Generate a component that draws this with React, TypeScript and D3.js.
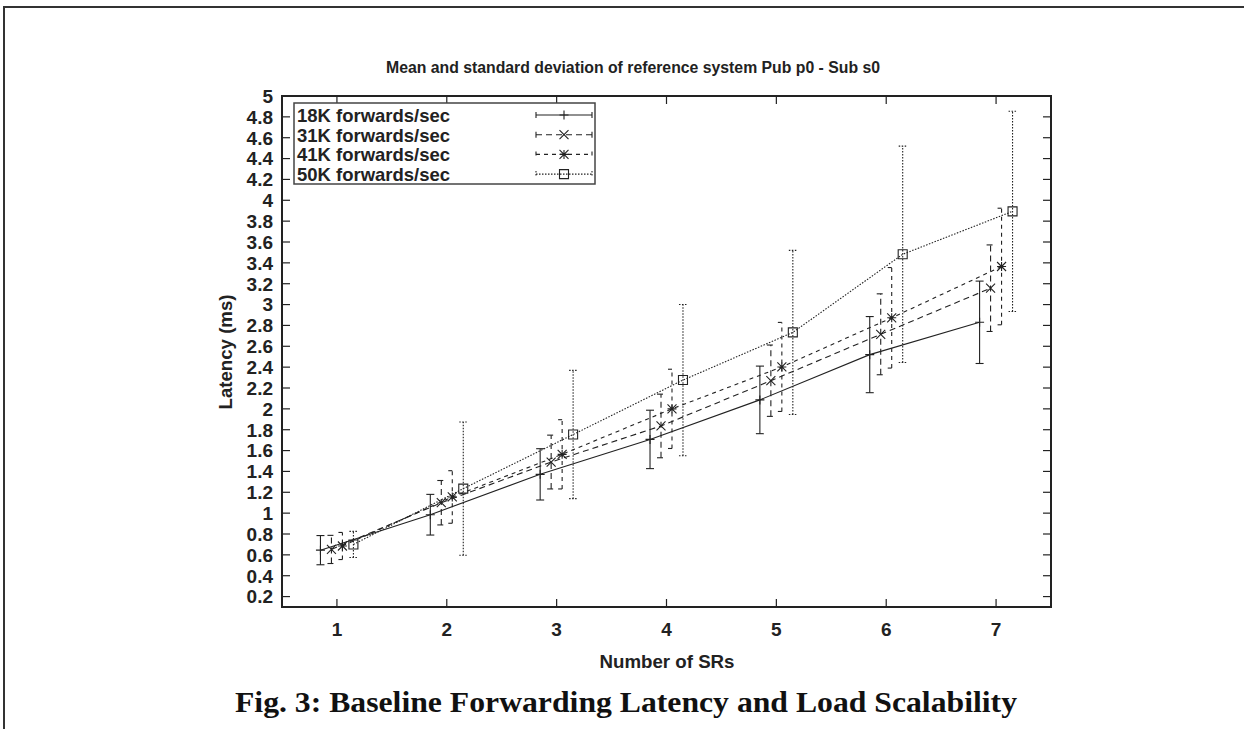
import React from 'react';
import * as d3 from 'd3';

// number of SRs on the x axis
const nodes = [1, 2, 3, 4, 5, 6, 7];

const seriesNames = ['18K forwards/sec', '31K forwards/sec', '41K forwards/sec', '50K forwards/sec'];

// mean latency (ms) per series
const mean18 = [0.645, 0.985, 1.372, 1.707, 2.086, 2.52, 2.83];
const mean31 = [0.652, 1.1, 1.49, 1.836, 2.27, 2.715, 3.157];
const mean41 = [0.685, 1.155, 1.564, 2.0, 2.402, 2.873, 3.365];
const mean50 = [0.7, 1.235, 1.754, 2.276, 2.733, 3.482, 3.894];

// standard deviation per series
const sd18 = [0.14, 0.195, 0.246, 0.28, 0.324, 0.365, 0.395];
const sd31 = [0.135, 0.213, 0.258, 0.305, 0.342, 0.388, 0.415];
const sd41 = [0.13, 0.252, 0.332, 0.38, 0.427, 0.482, 0.559];
const sd50 = [0.125, 0.639, 0.615, 0.725, 0.787, 1.037, 0.96];

const yTicks = d3.range(1, 26).map(i => +(i * 0.2).toFixed(1));

const params = {
    left: 282, right: 1051, top: 96, bottom: 607,
    tick: 8, cap: 4,
};

const font = '"Liberation Sans", Arial, sans-serif';
const ink = '#222';

const dashes = [null, '6,4', '4,4', '1.5,1.5'];
const offsets = [-0.15, -0.05, 0.05, 0.15];
const markers = ['plus', 'cross', 'star', 'box'];

function markerPath(kind: string, x: number, y: number) {
    const p = d3.path();
    const h = 4.5;
    if (kind == 'plus' || kind == 'star') {
        p.moveTo(x - h, y); p.lineTo(x + h, y);
        p.moveTo(x, y - h); p.lineTo(x, y + h);
    }
    if (kind == 'cross' || kind == 'star') {
        p.moveTo(x - h, y - h); p.lineTo(x + h, y + h);
        p.moveTo(x - h, y + h); p.lineTo(x + h, y - h);
    }
    if (kind == 'box') {
        p.rect(x - h, y - h, 2 * h, 2 * h);
    }
    return p.toString();
}

export default function App() {
    const x = d3.scaleLinear().domain([0.5, 7.5]).range([params.left, params.right]);
    const y = d3.scaleLinear().domain([0.1, 5]).range([params.bottom, params.top]);

    const means = [mean18, mean31, mean41, mean50];
    const sds = [sd18, sd31, sd41, sd50];

    // lines go through the shifted points of each series
    const lineFor = (s: number) => d3.line<number>()
        .x((d, i) => x(nodes[i] + offsets[s]))
        .y(d => y(d));

    return (
        <svg width={1244} height={729} style={{ position: 'absolute', left: 0, top: 0, background: '#fff' }}>
            {/* page frame */}
            <path d="M4,729V7H1244" fill="none" stroke="#333" strokeWidth={2} />

            <text x={633} y={73} textAnchor="middle" fontFamily={font} fontSize={16} fontWeight="bold" fill={ink}
                textLength={494} lengthAdjust="spacingAndGlyphs">
                Mean and standard deviation of reference system Pub p0 - Sub s0
            </text>

            {/* y ticks, both sides */}
            {yTicks.map(t => (
                <g key={'y' + t}>
                    <line x1={params.left} x2={params.left + params.tick} y1={y(t)} y2={y(t)} stroke={ink} strokeWidth={1.2} />
                    <line x1={params.right} x2={params.right - params.tick} y1={y(t)} y2={y(t)} stroke={ink} strokeWidth={1.2} />
                    <text x={273} y={y(t)} dy="0.36em" textAnchor="end" fontFamily={font} fontSize={19} fontWeight="bold" fill={ink}>
                        {String(t)}
                    </text>
                </g>
            ))}

            {/* x ticks, both sides */}
            {nodes.map(n => (
                <g key={'x' + n}>
                    <line x1={x(n)} x2={x(n)} y1={params.bottom} y2={params.bottom - params.tick} stroke={ink} strokeWidth={1.2} />
                    <line x1={x(n)} x2={x(n)} y1={params.top} y2={params.top + params.tick} stroke={ink} strokeWidth={1.2} />
                    <text x={x(n)} y={636} textAnchor="middle" fontFamily={font} fontSize={19} fontWeight="bold" fill={ink}>{n}</text>
                </g>
            ))}

            <text x={667} y={668} textAnchor="middle" fontFamily={font} fontSize={18} fontWeight="bold" fill={ink}
                textLength={135} lengthAdjust="spacingAndGlyphs">Number of SRs</text>
            <text transform="translate(232,352) rotate(-90)" textAnchor="middle" fontFamily={font} fontSize={18} fontWeight="bold" fill={ink}
                textLength={115} lengthAdjust="spacingAndGlyphs">Latency (ms)</text>

            {/* series */}
            {means.map((m, s) => (
                <g key={'s' + s} fill="none" stroke={ink} strokeWidth={1.1} strokeDasharray={dashes[s] || undefined}>
                    <path d={lineFor(s)(m) || ''} />
                    {m.map((v, i) => {
                        const cx = x(nodes[i] + offsets[s]);
                        const lo = y(v - sds[s][i]), hi = y(v + sds[s][i]);
                        return (
                            <g key={i}>
                                <line x1={cx} x2={cx} y1={lo} y2={hi} />
                                <line x1={cx - params.cap} x2={cx + params.cap} y1={lo} y2={lo} />
                                <line x1={cx - params.cap} x2={cx + params.cap} y1={hi} y2={hi} />
                                <path d={markerPath(markers[s], cx, y(v))} strokeDasharray="none" />
                            </g>
                        );
                    })}
                </g>
            ))}

            {/* legend */}
            <rect x={294} y={103} width={301} height={81} fill="#fff" stroke="#444" strokeWidth={1.5} />
            {seriesNames.map((name, s) => {
                const cy = 115 + s * 19.7;
                return (
                    <g key={name}>
                        <text x={297} y={cy} dy="0.36em" fontFamily={font} fontSize={19} fontWeight="bold" fill={ink}
                            textLength={153} lengthAdjust="spacingAndGlyphs">{name}</text>
                        <g fill="none" stroke={ink} strokeWidth={1.1} strokeDasharray={dashes[s] || undefined}>
                            <line x1={536} x2={592} y1={cy} y2={cy} />
                            <line x1={536} x2={536} y1={cy - 3} y2={cy + 3} />
                            <line x1={592} x2={592} y1={cy - 3} y2={cy + 3} />
                            <path d={markerPath(markers[s], 564, cy)} strokeDasharray="none" />
                        </g>
                    </g>
                );
            })}

            {/* plot border */}
            <rect x={params.left} y={params.top} width={params.right - params.left} height={params.bottom - params.top}
                fill="none" stroke={ink} strokeWidth={2} />

            <text x={626} y={712} textAnchor="middle" fontFamily='"Liberation Serif", "Times New Roman", serif' fontSize={30}
                fontWeight="bold" fill="#111" textLength={782} lengthAdjust="spacingAndGlyphs">
                Fig. 3: Baseline Forwarding Latency and Load Scalability
            </text>
        </svg>
    );
}
